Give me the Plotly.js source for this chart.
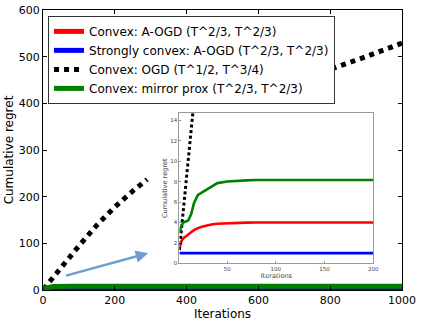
<!DOCTYPE html>
<html>
<head>
<meta charset="utf-8">
<script src="https://cdn.plot.ly/plotly-3.0.1.min.js"></script>
<style>
  body { margin: 0; background: #fff; }
  #chart { width: 421px; height: 325px; }
</style>
</head>
<body>
<div id="chart"></div>
<script>
// iterations, shared by all series
const iters = [1, 2, 3, 5, 8, 10, 13, 16, 20, 25, 30, 35, 40, 50, 60, 70, 80, 100,
               150, 200, 250, 290, 470, 650, 700, 800, 900, 1000];

// cumulative regret (null = hidden behind the inset)
const convexAogd = [1.5, 1.9, 2.15, 2.45, 2.7, 2.85, 3.05, 3.25, 3.45, 3.6, 3.75, 3.83, 3.88,
                    3.94, 3.97, 3.99, 4.0, 4.0, 4.0, 4.0, 4.0, 4.0, 4.0, 4.0, 4.0, 4.0, 4.0, 4.0];
const strongAogd = [1, 1, 1, 1, 1, 1, 1, 1, 1, 1, 1, 1, 1, 1, 1, 1, 1, 1,
                    1, 1, 1, 1, 1, 1, 1, 1, 1, 1];
const convexOgd = [1.3, 2.3, 3.3, 5.3, 8.2, 10.2, 13.2, 16.1, 19.8, 24.5, 29.2, 33.8, 38.5,
                   48, 57.5, 67, 76, 94.5, 139, 178, 212, 237, null, 424, 440, 473, 500, 529];
const mirrorProx = [3.0, 3.4, 3.7, 4.0, 4.1, 4.2, 4.8, 5.9, 6.7, 7.0, 7.3, 7.6, 7.85,
                    8.0, 8.08, 8.12, 8.15, 8.15, 8.15, 8.15, 8.15, 8.15, 8.15, 8.15, 8.15, 8.15, 8.15, 8.15];

const names = ["Convex: A-OGD (T^2/3, T^2/3)",
               "Strongly convex: A-OGD (T^2/3, T^2/3)",
               "Convex: OGD (T^1/2, T^3/4)",
               "Convex: mirror prox (T^2/3, T^2/3)"];
const mainTicksX = [0, 200, 400, 600, 800, 1000];
const mainTicksY = [0, 100, 200, 300, 400, 500, 600];
const insetTicksX = [50, 100, 150, 200];
const insetTicksY = [0, 2, 4, 6, 8, 10, 12, 14];

const series = [convexAogd, strongAogd, convexOgd, mirrorProx];
const colors = ["#ff0000", "#0000ff", "#000000", "#008000"];

let traces = [];
// main plot
for (let i = 0; i < 4; i++) {
    let line = {color: colors[i], width: 5};
    if (i == 2) line.dash = "5px,5px";
    traces.push({
        x: iters, y: series[i], type: "scatter", mode: "lines",
        name: names[i], line: line, xaxis: "x", yaxis: "y"
    });
}
// inset
for (let i = 0; i < 4; i++) {
    let line = {color: colors[i], width: 2.6};
    if (i == 2) line = {color: "#000", width: 3, dash: "3px,2.6px"};
    traces.push({
        x: iters, y: series[i], type: "scatter", mode: "lines",
        showlegend: false, line: line, xaxis: "x2", yaxis: "y2"
    });
}

const font = "DejaVu Sans, sans-serif";

const layout = {
    width: 421, height: 325,
    margin: {l: 43, r: 19, t: 10, b: 35},
    paper_bgcolor: "#fff", plot_bgcolor: "#fff",
    font: {family: font, size: 11, color: "#000"},
    showlegend: true,
    legend: {
        x: 0.014, y: 0.979, xanchor: "left", yanchor: "top",
        bgcolor: "#fff", bordercolor: "#333", borderwidth: 1,
        font: {family: font, size: 12, color: "#000"}
    },
    xaxis: {
        domain: [0, 1], range: [0, 1000], tickvals: mainTicksX,
        showline: true, mirror: "ticks", linecolor: "#000", linewidth: 1,
        ticks: "inside", ticklen: 4, tickcolor: "#000",
        showgrid: false, zeroline: false,
        tickfont: {size: 11},
        title: {text: "Iterations", font: {size: 12}, standoff: 3}
    },
    yaxis: {
        domain: [0, 1], range: [0, 600], tickvals: mainTicksY,
        showline: true, mirror: "ticks", linecolor: "#000", linewidth: 1,
        ticks: "inside", ticklen: 4, tickcolor: "#000",
        showgrid: false, zeroline: false,
        tickfont: {size: 11},
        title: {text: "Cumulative regret", font: {size: 12}, standoff: 2}
    },
    xaxis2: {
        anchor: "y2", domain: [0.380, 0.920], range: [1, 200], tickvals: insetTicksX,
        showline: true, mirror: true, linecolor: "#999", linewidth: 1,
        ticks: "inside", ticklen: 2, tickcolor: "#999",
        showgrid: false, zeroline: false,
        tickfont: {size: 5.5, color: "#444"},
        title: {text: "Iterations", font: {size: 6.6, color: "#444"}, standoff: 2}
    },
    yaxis2: {
        anchor: "x2", domain: [0.095, 0.632], range: [0, 14.7], tickvals: insetTicksY,
        showline: true, mirror: true, linecolor: "#999", linewidth: 1,
        ticks: "inside", ticklen: 2, tickcolor: "#999",
        showgrid: false, zeroline: false,
        tickfont: {size: 5.5, color: "#444"},
        title: {text: "Cumulative regret", font: {size: 6.6, color: "#444"}, standoff: 2}
    },
    annotations: [{
        x: 293, y: 79, ax: 60, ay: 30, xref: "x", yref: "y", axref: "x", ayref: "y",
        text: "", showarrow: true, arrowhead: 2, arrowsize: 1, arrowwidth: 2.5,
        arrowcolor: "#6d9dd3"
    }]
};

Plotly.newPlot("chart", traces, layout, {displayModeBar: false, staticPlot: true});
</script>
</body>
</html>
